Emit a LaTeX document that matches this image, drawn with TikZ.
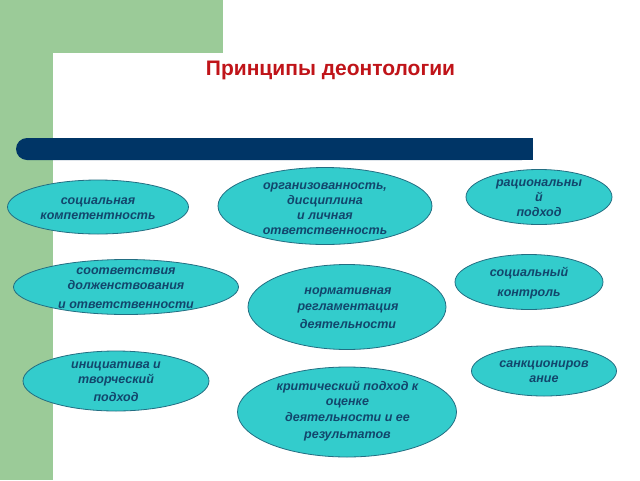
\documentclass[tikz,border=0pt]{standalone}
\usepackage{fontspec}
\setmainfont{Liberation Sans}
\newfontfamily\ellfont{Liberation Sans}
\usetikzlibrary{shapes.geometric}
\definecolor{bggreen}{RGB}{155,203,152}
\definecolor{barblue}{RGB}{0,53,102}
\definecolor{titlered}{RGB}{192,20,25}
\definecolor{ellfill}{RGB}{51,204,204}
\definecolor{elledge}{RGB}{35,110,130}
\definecolor{elltext}{RGB}{18,70,108}
\begin{document}
\begin{tikzpicture}[x=1pt,y=-1pt,
  oval/.style={ellipse, draw=elledge, line width=0.8pt, fill=ellfill, inner sep=0pt},
  ovaltext/.style={align=center, inner sep=0pt, text=elltext, font=\ellfont\bfseries\itshape\fontsize{12.5}{15}\selectfont}]
\useasboundingbox (0,0) rectangle (640,480);
\fill[white] (0,0) rectangle (640,480);
\fill[bggreen] (0,0) rectangle (223,53);
\fill[bggreen] (0,0) rectangle (53,480);
\fill[white] (68,68) circle (15pt);
\fill[white] (68,53) rectangle (640,480);
\fill[white] (53,68) rectangle (640,480);
\fill[barblue, rounded corners=11pt] (16,138) rectangle (533,160);
\fill[barblue] (500,138) rectangle (533,160);
\node[font=\bfseries\fontsize{21}{25}\selectfont, text=titlered, anchor=base, inner sep=0pt] (title) at (330.5,75) {Принципы деонтологии};

\node[oval, minimum width=181pt, minimum height=54pt] (e1) at (98,207) {};
\node[ovaltext] (t1) at (98,208.5) {социальная\\компетентность};

\node[oval, minimum width=225pt, minimum height=55pt] (e2) at (126,287) {};
\node[ovaltext] (t2) at (126,288.5) {соответствия\\долженствования\\[4pt]и ответственности};

\node[oval, minimum width=214pt, minimum height=77pt] (e3) at (325,206) {};
\node[ovaltext] (t3) at (325,209) {организованность,\\дисциплина\\и личная\\ответственность};

\node[oval, minimum width=198pt, minimum height=85pt] (e4) at (347,307) {};
\node[ovaltext] (t4) at (348,308) {нормативная\\[1pt]регламентация\\[3pt]деятельности};

\node[oval, minimum width=146pt, minimum height=55pt] (e5) at (539,197) {};
\node[ovaltext] (t5) at (539,198) {рациональны\\й\\подход};

\node[oval, minimum width=148pt, minimum height=55pt] (e6) at (529,282) {};
\node[ovaltext] (t6) at (529,283) {социальный\\[5pt]контроль};

\node[oval, minimum width=186pt, minimum height=60pt] (e7) at (116,381) {};
\node[ovaltext] (t7) at (116,381.5) {инициатива и\\творческий\\[3pt]подход};

\node[oval, minimum width=219pt, minimum height=90pt] (e8) at (347,412) {};
\node[ovaltext] (t8) at (347.5,411) {критический подход к\\оценке\\[1pt]деятельности и ее\\[2pt]результатов};

\node[oval, minimum width=145pt, minimum height=50pt] (e9) at (544,371) {};
\node[ovaltext] (t9) at (544,371.5) {санкциониров\\ание};
\end{tikzpicture}
\end{document}
